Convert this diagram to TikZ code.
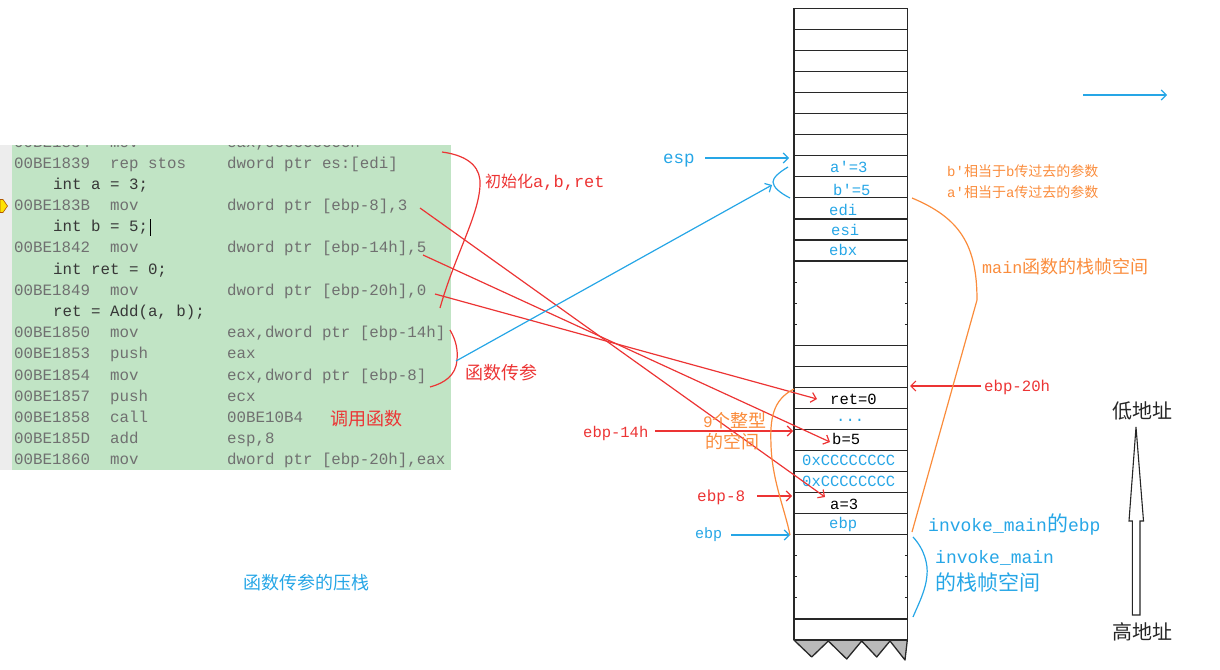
\documentclass[tikz,border=0pt]{standalone}
\usepackage{fontspec}
\newfontfamily\cjk{Noto Sans CJK SC}
\newfontfamily\mono{Liberation Mono}
\usetikzlibrary{arrows.meta}
\definecolor{cred}{RGB}{236,52,52}
\definecolor{cblue}{RGB}{38,166,230}
\definecolor{corange}{RGB}{250,140,60}
\definecolor{cgreen}{RGB}{193,228,197}
\definecolor{cgrey}{RGB}{112,112,112}
\definecolor{csrc}{RGB}{55,55,55}
\definecolor{cstk}{RGB}{40,40,40}
\newcommand\zhtxt[2]{{\cjk\fontsize{#1}{#1}\selectfont #2}}
\newcommand\mtxt[2]{{\mono\fontsize{#1}{#1}\selectfont #2}}
\begin{document}
\begin{tikzpicture}[x=1pt,y=-1pt,
  lbl/.style={anchor=base west, inner sep=0pt},
  code/.style={anchor=base west, inner sep=0pt, font=\mono\fontsize{15.8}{18}\selectfont, text=cgrey},
  src/.style={code, text=csrc},
  cell/.style={anchor=base west, inner sep=0pt, font=\mono\fontsize{15.5}{18}\selectfont},
  stk/.style={cstk, line width=1.3pt},
  rline/.style={cred, line width=1.2pt},
  rarr/.style={rline, -{Straight Barb[length=5pt,width=10pt]}},
  bline/.style={cblue, line width=1.2pt},
  barr/.style={bline, -{Straight Barb[length=5pt,width=10pt]}},
  oline/.style={corange, line width=1.2pt}
]
\useasboundingbox (0,0) rectangle (1220,669);

% ---------- code listing ----------
\fill[gray!14] (0,145) rectangle (11.7,470);
\fill[cgreen] (11.7,145) rectangle (450.7,470);
\begin{scope}
  \clip (11.7,145) rectangle (450.7,470);
  \node[code, name=c0a] at (14,147) {00BE1834};
  \node[code, name=c0m] at (110,147) {mov};
  \node[code, name=c0o] at (227,147) {eax,0CCCCCCCCh};
\end{scope}
\foreach \yy/\ad/\mn/\op [count=\k] in {
  163.3/00BE1839/rep stos/{dword ptr es:[edi]},
  205.7/00BE183B/mov/{dword ptr [ebp-8],3},
  248.1/00BE1842/mov/{dword ptr [ebp-14h],5},
  290.5/00BE1849/mov/{dword ptr [ebp-20h],0},
  332.9/00BE1850/mov/{eax,dword ptr [ebp-14h]},
  354.1/00BE1853/push/{eax},
  375.3/00BE1854/mov/{ecx,dword ptr [ebp-8]},
  396.5/00BE1857/push/{ecx},
  417.7/00BE1858/call/{00BE10B4},
  438.9/00BE185D/add/{esp,8},
  460.1/00BE1860/mov/{dword ptr [ebp-20h],eax}}{
  \node[code, name=ca\k] at (14,\yy+4.8) {\ad};
  \node[code, name=cm\k] at (110,\yy+4.8) {\mn};
  \node[code, name=co\k] at (227,\yy+4.8) {\op};
}
\foreach \yy/\s [count=\k] in {184.5/{int a = 3;}, 226.9/{int b = 5;}, 269.3/{int ret = 0;}, 311.7/{ret = Add(a, b);}}{
  \node[src, name=cs\k] at (53,\yy+4.8) {\s};
}
% text cursor
\draw[black, line width=1pt] (150,219) -- (150,236);
% breakpoint marker
\fill[yellow!85!orange, draw=orange!70!black, line width=0.6pt] (0,199.5) -- (3,199.5) -- (7.5,206) -- (3,212.5) -- (0,212.5) -- cycle;

% ---------- stack ----------
\foreach \i in {0,1,2,3,4,5,6,7,8,9,10,11,12,16,17,18,19,20,21,22,23,24,25,29,30}{
  \draw[stk] (794,{8.3+21.06*\i}) -- (907.3,{8.3+21.06*\i});
}
\foreach \i in {13,14,15,26,27,28}{
  \draw[stk, line width=1pt] (794,{8.3+21.06*\i}) -- (796.5,{8.3+21.06*\i});
  \draw[stk, line width=1pt] (904.8,{8.3+21.06*\i}) -- (907.3,{8.3+21.06*\i});
}
\fill[gray!55, draw=cstk, line width=1.3pt, line join=round] (794,640.1) -- (811.7,657) -- (828.3,641) -- (846.7,659) -- (861.7,641) -- (876.7,657) -- (890,641) -- (905,660) -- (907.3,640.1) -- cycle;
\draw[stk] (794,8.3) -- (794,640.1);
\draw[stk] (907.3,8.3) -- (907.3,640.1);

\node[cell, text=cblue, name=sa] at (830,172) {a'=3};
\node[cell, text=cblue, name=sb] at (833,195) {b'=5};
\node[cell, text=cblue, name=sedi] at (829,215) {edi};
\node[cell, text=cblue, name=sesi] at (831,235) {esi};
\node[cell, text=cblue, name=sebx] at (829,255) {ebx};
\node[cell, text=black, name=sret] at (830,404) {ret=0};
\node[cell, text=cblue, name=sdots] at (836,421) {...};
\node[cell, text=black, name=sbv] at (832,444) {b=5};
\node[cell, text=cblue, name=scc1] at (802,465.5) {0xCCCCCCCC};
\node[cell, text=cblue, name=scc2] at (802,486) {0xCCCCCCCC};
\node[cell, text=black, name=sav] at (830,509) {a=3};
\node[cell, text=cblue, name=sebp] at (829,528.5) {ebp};

% ---------- red annotations ----------
\node[lbl, text=cred, name=linit] at (485,187) {\zhtxt{16}{初始化}\mtxt{17}{a,b,ret}};
\node[lbl, text=cred, name=lpass] at (465,379) {\zhtxt{18}{函数传参}};
\node[lbl, text=cred, name=lcall] at (330,425) {\zhtxt{18}{调用函数}};
\node[lbl, text=cred, name=l14h] at (583,437) {\mtxt{15.5}{ebp-14h}};
\node[lbl, text=cred, name=l8] at (697,501.5) {\mtxt{16}{ebp-8}};
\node[lbl, text=cred, name=l20h] at (984,391) {\mtxt{15.7}{ebp-20h}};

\coordinate (r1s) at (420,208);  \coordinate (r1e) at (825,497);
\coordinate (r2s) at (423,255);  \coordinate (r2e) at (830,442);
\coordinate (r3s) at (435,294);  \coordinate (r3e) at (817,399);
\draw[rarr] (r1s) -- (r1e);
\draw[rarr] (r2s) -- (r2e);
\draw[rarr] (r3s) -- (r3e);
\coordinate (r20t) at (910,386);
\coordinate (r14t) at (793,431);
\coordinate (r8t) at (792,496);
\draw[rarr] (l20h.west |- r20t) ++(-3,0) coordinate (r20s) -- (r20t);
\draw[rarr] (655,431) coordinate (r14s) -- (r14t);
\draw[rarr] (757,496) coordinate (r8s) -- (r8t);
\draw[rline] (442,152) .. controls (472,156) and (481,170) .. (480,185) .. controls (479,215) and (455,255) .. (440,308);
\draw[rline] (450,330) .. controls (456,340) and (458,350) .. (457,360) .. controls (456,375) and (445,383) .. (430,387);

% ---------- blue annotations ----------
\node[lbl, text=cblue, name=lesp] at (663,163) {\mtxt{17.5}{esp}};
\node[lbl, text=cblue, name=lebp] at (695,538.5) {\mtxt{15}{ebp}};
\node[lbl, text=cblue, name=linvebp] at (928,531.5) {\mtxt{18}{invoke\_main}\zhtxt{21}{的}\mtxt{18}{ebp}};
\node[lbl, text=cblue, name=linv1] at (935,563) {\mtxt{18}{invoke\_main}};
\node[lbl, text=cblue, name=linv2] at (935,590) {\zhtxt{21}{的栈帧空间}};
\node[lbl, text=cblue, name=lpush] at (243,589) {\zhtxt{18}{函数传参的压栈}};
\coordinate (besp) at (789,158);
\draw[barr] (705,158) coordinate (bespS) -- (besp);
\coordinate (bpS) at (456,361); \coordinate (bpE) at (772,185);
\draw[barr] (bpS) -- (bpE);
\coordinate (bebp) at (790,535);
\draw[barr] (731,535) coordinate (bebpS) -- (bebp);
\coordinate (btl) at (1083,95); \coordinate (btr) at (1167,95);
\draw[barr] (btl) -- (btr);
\draw[bline] (788,167) .. controls (778,173) and (773,178) .. (773,182) .. controls (773,187) and (780,193) .. (790,198);
\draw[bline] (913,537) .. controls (925,550) and (928,565) .. (927,575) .. controls (926,590) and (918,605) .. (913,617);

% ---------- orange annotations ----------
\node[lbl, text=corange, name=lb] at (947,176) {\mtxt{14}{b'}\zhtxt{14}{相当于}\mtxt{14}{b}\zhtxt{14}{传过去的参数}};
\node[lbl, text=corange, name=la] at (947,197) {\mtxt{14}{a'}\zhtxt{14}{相当于}\mtxt{14}{a}\zhtxt{14}{传过去的参数}};
\node[lbl, text=corange, name=lmain] at (982,273.5) {\mtxt{16.7}{main}\zhtxt{18}{函数的栈帧空间}};
\node[lbl, text=corange, name=l9a] at (703,427.5) {\mtxt{16}{9}\zhtxt{18}{个整型}};
\node[lbl, text=corange, name=l9b] at (705,448) {\zhtxt{18}{的空间}};
\draw[oline] (912,198) .. controls (960,218) and (977,245) .. (977,300) -- (912,532);
\draw[oline] (794,389) .. controls (772,400) and (770,420) .. (771,445) .. controls (772,480) and (785,510) .. (790,535);

% ---------- address direction ----------
\node[lbl, text=black!85, name=llow] at (1112,418.6) {\zhtxt{20}{低地址}};
\node[lbl, text=black!85, name=lhigh] at (1112,639.6) {\zhtxt{20}{高地址}};
\draw[black!85, line width=1.1pt, fill=white, line join=miter] (1132.3,615) -- (1132.3,521) -- (1129,521) -- (1136,427) -- (1143.5,521) -- (1140,521) -- (1140,615) -- cycle;
\end{tikzpicture}
\end{document}
